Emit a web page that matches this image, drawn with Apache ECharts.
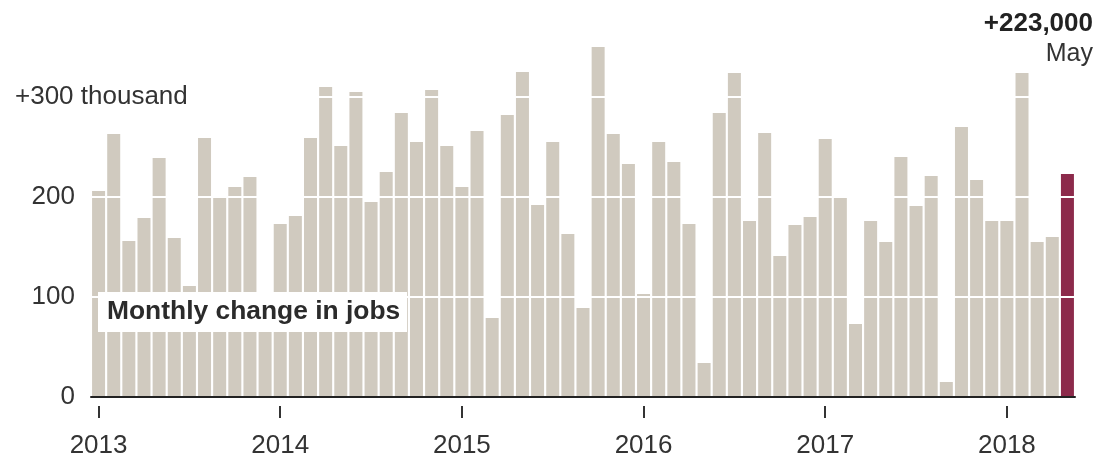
<!DOCTYPE html>
<html>
<head>
<meta charset="utf-8">
<script src="https://cdn.jsdelivr.net/npm/echarts@6/dist/echarts.min.js"></script>
<style>
  html, body { margin: 0; padding: 0; background: #fff; }
  #chart { width: 1095px; height: 461px; }
</style>
</head>
<body>
<div id="chart"></div>
<script>
// years shown on the x axis, one label per January
const years = ['2013', '2014', '2015', '2016', '2017', '2018'];
const monthNames = ['Jan', 'Feb', 'Mar', 'Apr', 'May', 'Jun', 'Jul', 'Aug', 'Sep', 'Oct', 'Nov', 'Dec'];

// monthly change in jobs, thousands
const jobs2013 = [206, 263, 156, 179, 239, 159, 111, 259, 199, 210, 220, 84];
const jobs2014 = [173, 181, 259, 310, 251, 305, 195, 225, 284, 255, 307, 251];
const jobs2015 = [210, 266, 79, 282, 325, 192, 255, 163, 89, 350, 263, 233];
const jobs2016 = [103, 255, 235, 173, 34, 284, 324, 176, 264, 141, 172, 180];
const jobs2017 = [258, 199, 73, 176, 155, 240, 191, 221, 15, 270, 217, 176];
const jobs2018 = [176, 324, 155, 160, 223];

// y axis ticks
const yTicks = [0, 100, 200, 300];
const yUnit = 'thousand';

const jobs = [].concat(jobs2013, jobs2014, jobs2015, jobs2016, jobs2017, jobs2018);

// category per month, "2013 Jan" ...
const categories = [];
years.forEach(function (y) {
  monthNames.forEach(function (m) {
    if (categories.length < jobs.length) categories.push(y + ' ' + m);
  });
});

const lastIndex = jobs.length - 1;
const lastMonth = 'May';
const lastLabel = '+' + (jobs[lastIndex] * 1000).toLocaleString('en-US');

const FONT = '"Liberation Sans", Arial, sans-serif';
const BAR = '#d0cabf';
const HIGHLIGHT = '#8c2a4b';
const TEXT = '#333333';

// only January gets a tick and a label
const isJanuary = function (index) { return index % 12 === 0; };

let chart = echarts.init(document.getElementById('chart'));
chart.setOption({
  animation: false,
  grid: { left: 91, right: 20, top: 37, bottom: 64 },
  xAxis: [
    {
      type: 'category',
      data: categories,
      z: 5,
      axisLine: { lineStyle: { color: '#222', width: 2 } },
      axisTick: { show: false },
      axisLabel: { show: false }
    },
    {
      type: 'category',
      data: categories,
      position: 'bottom',
      offset: 9,
      axisLine: { show: false },
      axisTick: {
        show: true,
        alignWithLabel: true,
        interval: isJanuary,
        length: 12,
        lineStyle: { color: '#333', width: 2 }
      },
      axisLabel: {
        interval: isJanuary,
        margin: 27,
        fontFamily: FONT,
        fontSize: 26,
        color: TEXT,
        formatter: function (v) { return v.split(' ')[0]; }
      }
    }
  ],
  yAxis: {
    type: 'value',
    min: 0,
    max: 360,
    interval: 100,
    z: 3,
    axisLine: { show: false },
    axisTick: { show: false },
    splitLine: { lineStyle: { color: '#ffffff', width: 2 } },
    axisLabel: {
      align: 'left',
      margin: 76,
      formatter: function (v) {
        if (yTicks.indexOf(v) < 0) return '';
        if (v === yTicks[yTicks.length - 1]) return '{lead|+' + v + ' ' + yUnit + '}';
        return '{num|' + v + '}';
      },
      rich: {
        num: { width: 60, align: 'right', fontFamily: FONT, fontSize: 26, color: TEXT },
        lead: { fontFamily: FONT, fontSize: 26, color: TEXT }
      }
    }
  },
  series: [
    {
      type: 'bar',
      xAxisIndex: 0,
      barWidth: 13,
      itemStyle: { color: BAR },
      data: jobs.map(function (v, i) {
        return i === lastIndex ? { value: v, itemStyle: { color: HIGHLIGHT } } : v;
      })
    }
  ],
  graphic: [
    {
      type: 'rect',
      z: 100,
      shape: { x: 98, y: 292, width: 309, height: 40 },
      style: { fill: '#ffffff' }
    },
    {
      type: 'text',
      z: 101,
      x: 107,
      y: 312,
      style: {
        text: 'Monthly change in jobs',
        fontFamily: FONT,
        fontSize: 26.4,
        fontWeight: 'bold',
        fill: '#2b2b2b',
        align: 'left',
        verticalAlign: 'middle'
      }
    },
    {
      type: 'text',
      z: 101,
      x: 1093,
      y: 24,
      style: {
        text: lastLabel,
        fontFamily: FONT,
        fontSize: 26,
        fontWeight: 'bold',
        fill: '#222',
        align: 'right',
        verticalAlign: 'middle'
      }
    },
    {
      type: 'text',
      z: 101,
      x: 1093,
      y: 54,
      style: {
        text: lastMonth,
        fontFamily: FONT,
        fontSize: 25,
        fill: TEXT,
        align: 'right',
        verticalAlign: 'middle'
      }
    }
  ]
});
</script>
</body>
</html>
